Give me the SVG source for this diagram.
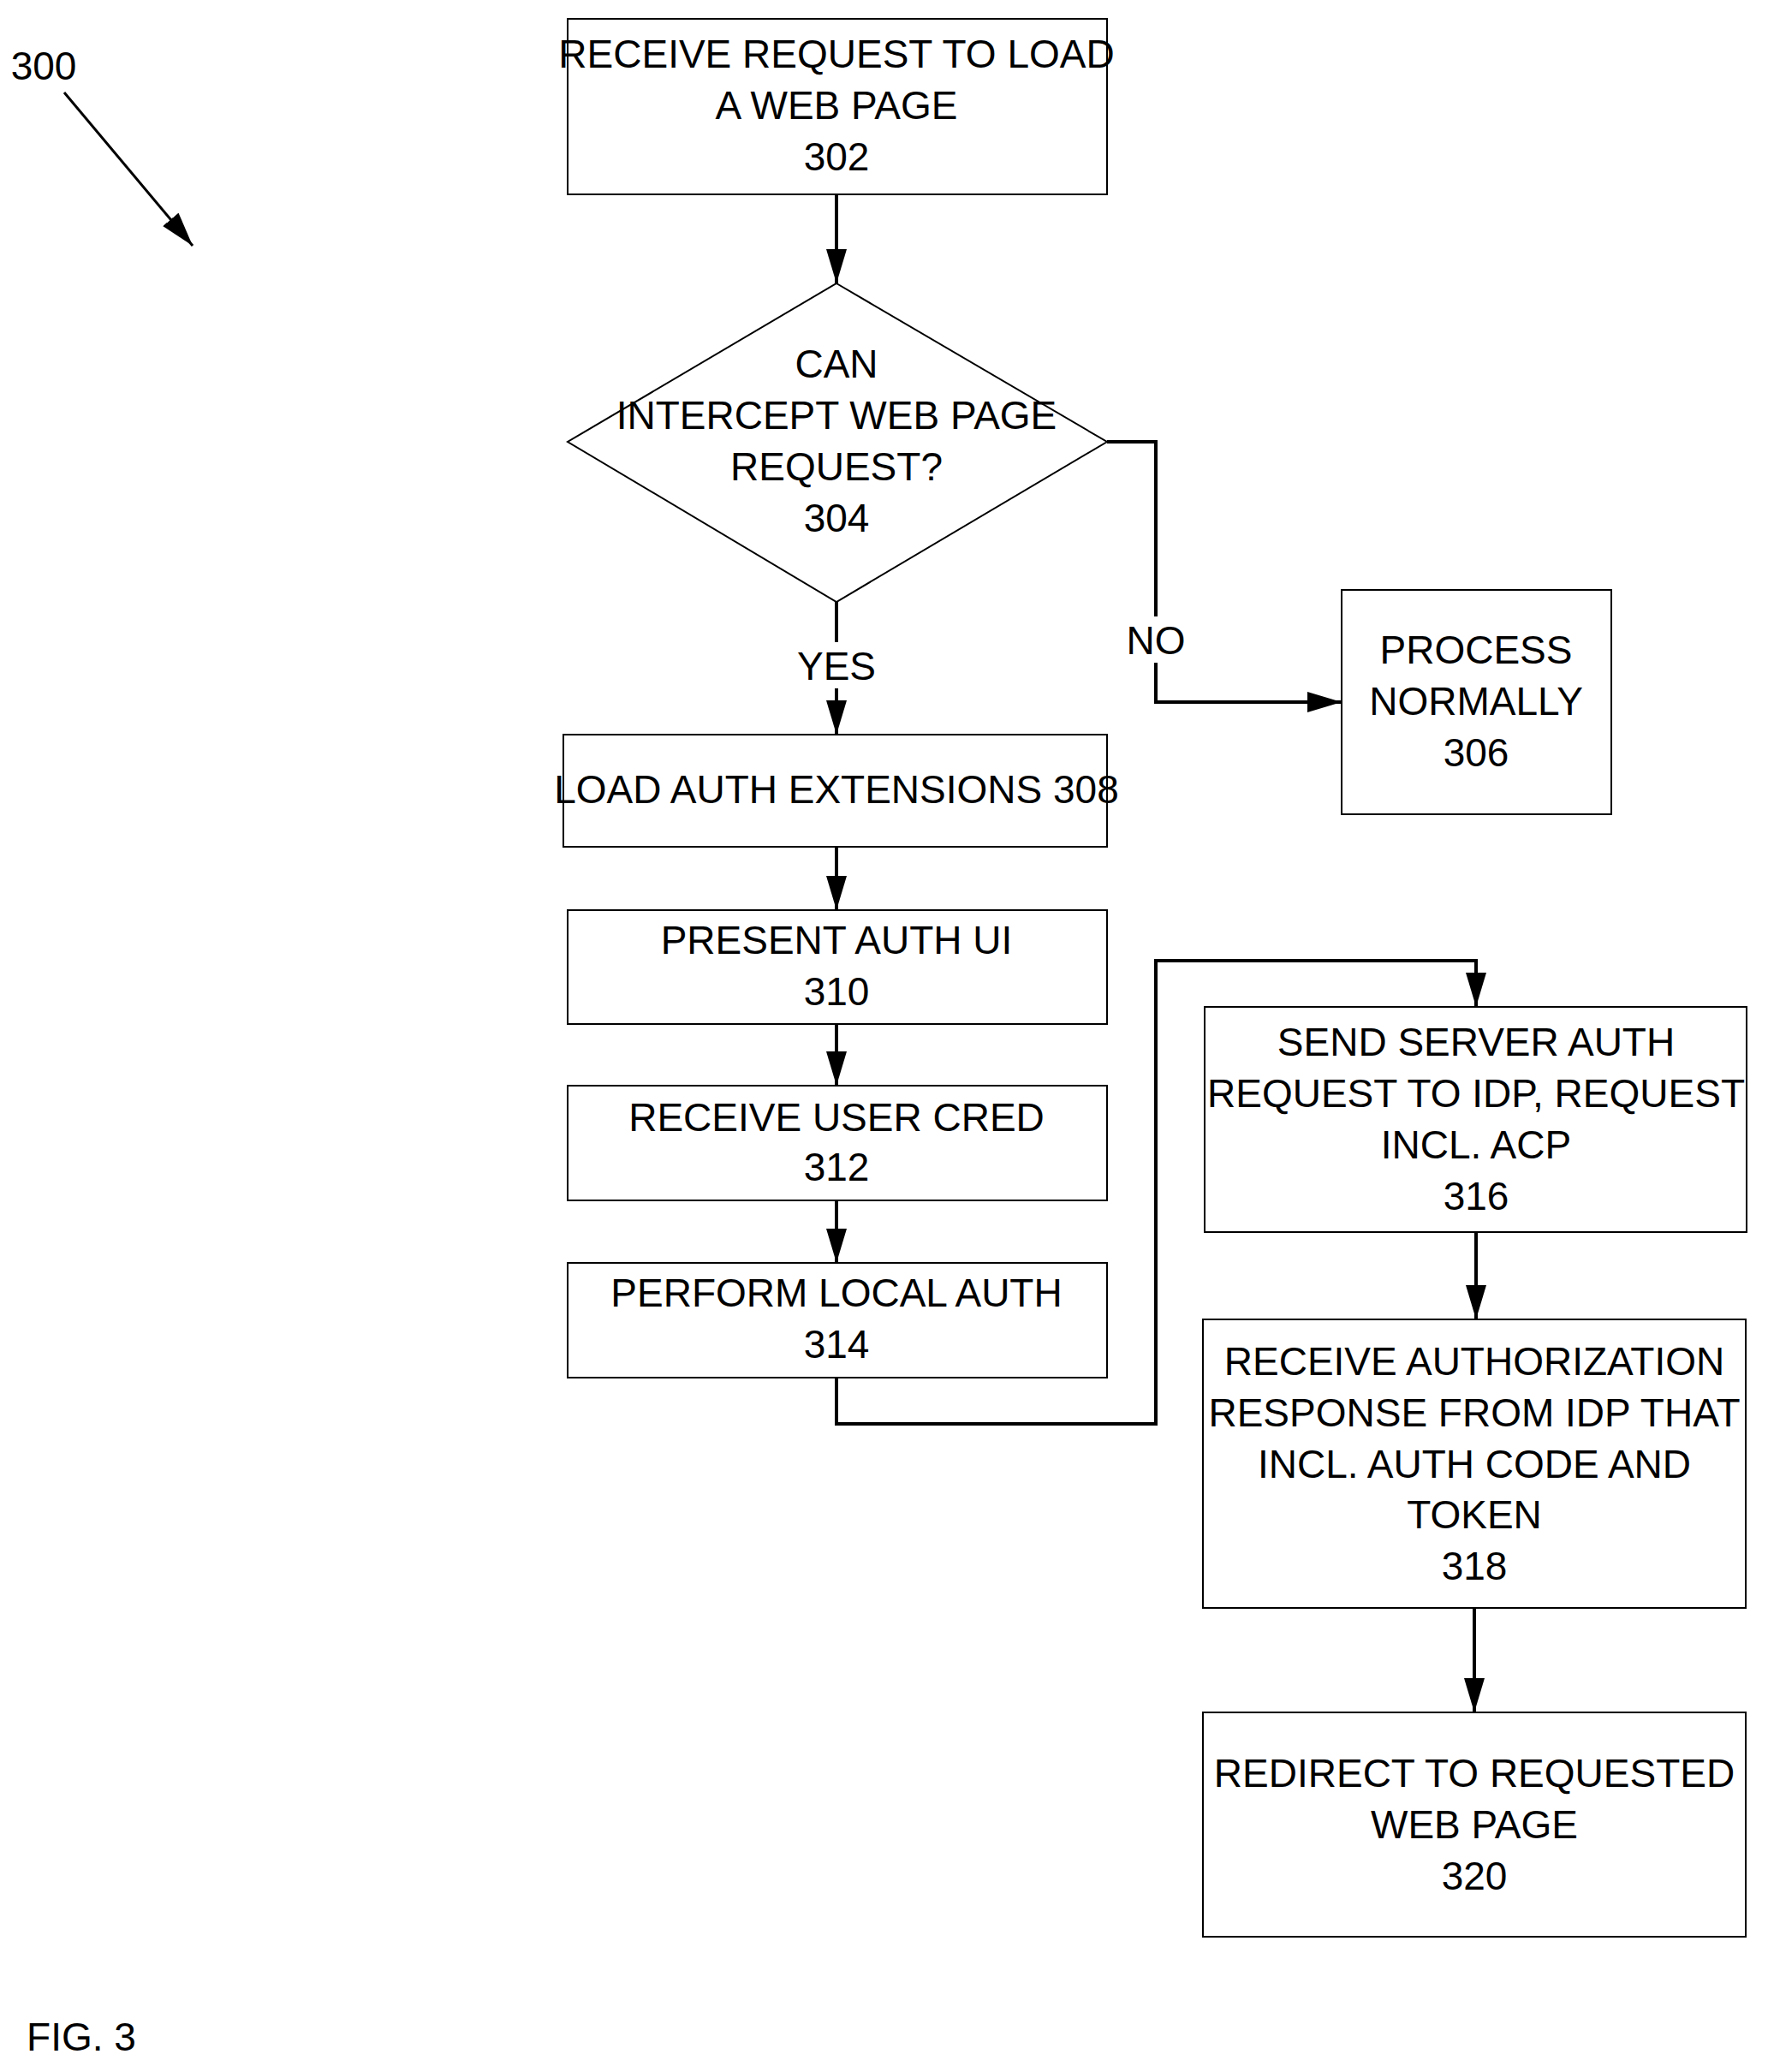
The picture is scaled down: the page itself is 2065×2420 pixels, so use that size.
<svg xmlns="http://www.w3.org/2000/svg" width="2065" height="2420" viewBox="0 0 2065 2420">
<defs>
<style>
text{font-family:"Liberation Sans Narrow","Liberation Sans",Arial,sans-serif;font-size:46px;fill:#000;text-anchor:middle}
.b{fill:#fff;stroke:#000;stroke-width:2}
.c{fill:none;stroke:#000;stroke-width:4}
</style>
<marker id="a" markerWidth="10" markerHeight="10" refX="9" refY="5" orient="auto" markerUnits="userSpaceOnUse" viewBox="0 0 10 10"><path d="M0,0L10,5L0,10z"/></marker>
<marker id="ah" viewBox="0 0 10 10" refX="10" refY="5" markerWidth="40" markerHeight="24" orient="auto" markerUnits="userSpaceOnUse" preserveAspectRatio="none"><path d="M0,0L10,5L0,10z"/></marker>
</defs>
<rect width="2065" height="2420" fill="#fff"/>
<g id="connectors">
<line class="c" x1="977" y1="227" x2="977" y2="331" marker-end="url(#ah)"/>
<polyline class="c" points="1293,516 1350,516 1350,820 1567,820" marker-end="url(#ah)"/>
<line class="c" x1="977" y1="703" x2="977" y2="858" marker-end="url(#ah)"/>
<line class="c" x1="977" y1="989" x2="977" y2="1063" marker-end="url(#ah)"/>
<line class="c" x1="977" y1="1196" x2="977" y2="1268" marker-end="url(#ah)"/>
<line class="c" x1="977" y1="1402" x2="977" y2="1475" marker-end="url(#ah)"/>
<polyline class="c" points="977,1609 977,1663 1350,1663 1350,1122 1724,1122 1724,1176" marker-end="url(#ah)"/>
<line class="c" x1="1724" y1="1439" x2="1724" y2="1541" marker-end="url(#ah)"/>
<line class="c" x1="1722" y1="1878" x2="1722" y2="2000" marker-end="url(#ah)"/>
<line stroke="#000" stroke-width="3" x1="75" y1="108" x2="225" y2="287" marker-end="url(#ah)"/>
<rect x="1318" y="720" width="64" height="54" fill="#fff"/>
<text x="1350" y="764">NO</text>
<rect x="930" y="750" width="94" height="54" fill="#fff"/>
<text x="977" y="794">YES</text>
</g>
<g id="n300"><text x="51" y="93">300</text></g>
<g id="n302"><rect class="b" x="663" y="22" width="630" height="205"/>
<text x="977" y="79">RECEIVE REQUEST TO LOAD</text><text x="977" y="139">A WEB PAGE</text><text x="977" y="199">302</text></g>
<g id="n304"><polygon class="b" stroke-width="1.5" points="977,331 1293,516 977,703 663,516"/>
<text x="977" y="441">CAN</text><text x="977" y="501">INTERCEPT WEB PAGE</text><text x="977" y="561">REQUEST?</text><text x="977" y="621">304</text></g>
<g id="n306"><rect class="b" x="1567" y="689" width="315" height="262"/>
<text x="1724" y="775">PROCESS</text><text x="1724" y="835">NORMALLY</text><text x="1724" y="895">306</text></g>
<g id="n308"><rect class="b" x="658" y="858" width="635" height="131"/>
<text x="977" y="938">LOAD AUTH EXTENSIONS 308</text></g>
<g id="n310"><rect class="b" x="663" y="1063" width="630" height="133"/>
<text x="977" y="1114">PRESENT AUTH UI</text><text x="977" y="1174">310</text></g>
<g id="n312"><rect class="b" x="663" y="1268" width="630" height="134"/>
<text x="977" y="1321">RECEIVE USER CRED</text><text x="977" y="1379">312</text></g>
<g id="n314"><rect class="b" x="663" y="1475" width="630" height="134"/>
<text x="977" y="1526">PERFORM LOCAL AUTH</text><text x="977" y="1586">314</text></g>
<g id="n316"><rect class="b" x="1407" y="1176" width="633" height="263"/>
<text x="1724" y="1233">SEND SERVER AUTH</text><text x="1724" y="1293">REQUEST TO IDP, REQUEST</text><text x="1724" y="1353">INCL. ACP</text><text x="1724" y="1413">316</text></g>
<g id="n318"><rect class="b" x="1405" y="1541" width="634" height="337"/>
<text x="1722" y="1606">RECEIVE AUTHORIZATION</text><text x="1722" y="1666">RESPONSE FROM IDP THAT</text><text x="1722" y="1726">INCL. AUTH CODE AND</text><text x="1722" y="1785">TOKEN</text><text x="1722" y="1845">318</text></g>
<g id="n320"><rect class="b" x="1405" y="2000" width="634" height="262"/>
<text x="1722" y="2087">REDIRECT TO REQUESTED</text><text x="1722" y="2147">WEB PAGE</text><text x="1722" y="2207">320</text></g>
<g id="fig"><text x="95" y="2395">FIG. 3</text></g>
</svg>
